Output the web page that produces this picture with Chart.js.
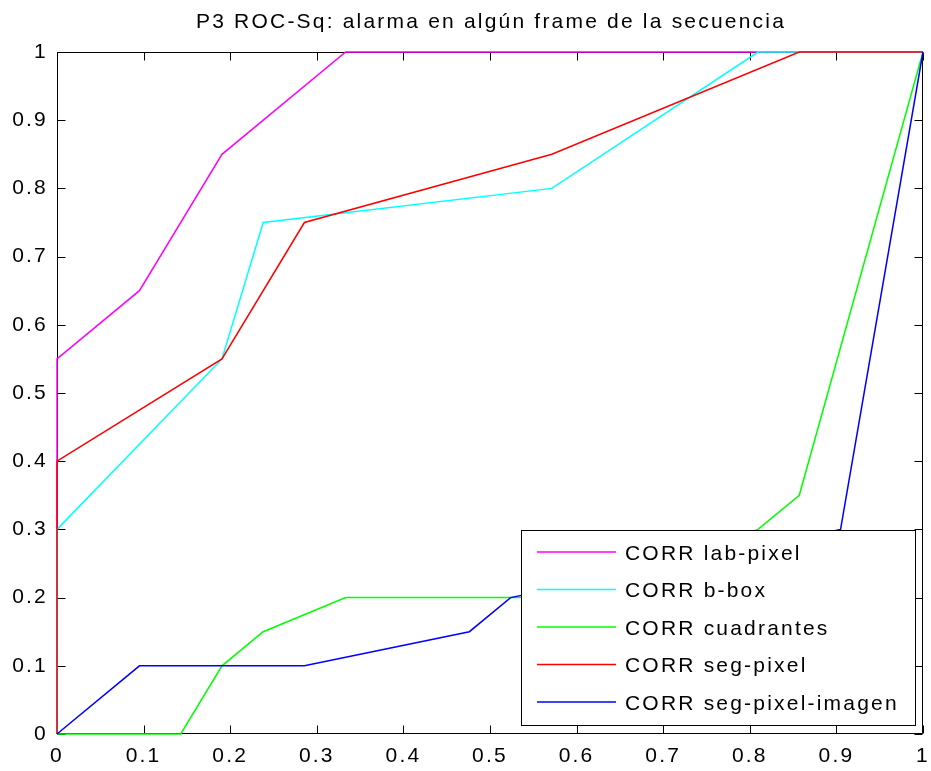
<!DOCTYPE html>
<html>
<head>
<meta charset="utf-8">
<title>P3 ROC-Sq</title>
<script src="https://cdn.jsdelivr.net/npm/chart.js@4"></script>
<style>
  html, body { margin: 0; padding: 0; background: #fff; }
  canvas { display: block; }
</style>
</head>
<body>
<canvas id="roc" width="931" height="771"></canvas>
<script>
const titulo = "P3 ROC-Sq: alarma en algún frame de la secuencia";

// curvas ROC (x = falsos positivos, y = verdaderos positivos)
const labPixelX = [0, 0, 0.0952, 0.1905, 0.3333, 1];
const labPixelY = [0, 0.55, 0.65, 0.85, 1, 1];

const bBoxX = [0, 0, 0.1905, 0.2381, 0.5714, 0.8095, 1];
const bBoxY = [0, 0.3, 0.55, 0.75, 0.8, 1, 1];

const cuadrantesX = [0, 0.1429, 0.1905, 0.2381, 0.3333, 0.5714, 0.8095, 0.8571, 1];
const cuadrantesY = [0, 0, 0.1, 0.15, 0.2, 0.2, 0.3, 0.35, 1];

const segPixelX = [0, 0, 0.1905, 0.2857, 0.5714, 0.8571, 1];
const segPixelY = [0, 0.4, 0.55, 0.75, 0.85, 1, 1];

const segImagenX = [0, 0.0952, 0.2857, 0.4762, 0.5238, 0.9048, 1];
const segImagenY = [0, 0.1, 0.1, 0.15, 0.2, 0.3, 1];

const nombres = ["CORR lab-pixel", "CORR b-box", "CORR cuadrantes", "CORR seg-pixel", "CORR seg-pixel-imagen"];
const colores = ["#ff00ff", "#00ffff", "#00ff00", "#ff0000", "#0000ff"];

const FUENTE = "21px 'Liberation Sans', Arial, sans-serif";
const ESPACIADO = "2.2px";

function puntos(xs, ys) {
  return xs.map((x, i) => ({ x: x, y: ys[i] }));
}

const series = [
  puntos(labPixelX, labPixelY),
  puntos(bBoxX, bBoxY),
  puntos(cuadrantesX, cuadrantesY),
  puntos(segPixelX, segPixelY),
  puntos(segImagenX, segImagenY),
];

// etiquetas sin ceros de sobra: 0, 0.1 ... 1
function etiqueta(v) {
  return String(Number(v.toFixed(1)));
}

// caja de ejes con marcas hacia dentro, como en matlab
const cajaEjes = {
  id: "cajaEjes",
  beforeDraw(chart) {
    chart.ctx.letterSpacing = ESPACIADO;
  },
  beforeDatasetsDraw(chart) {
    const { ctx, chartArea: a, scales } = chart;
    const l = Math.round(a.left) + 0.5, r = Math.round(a.right) - 0.5;
    const t = Math.round(a.top) + 0.5, b = Math.round(a.bottom) - 0.5;
    const largo = 8;
    ctx.save();
    ctx.strokeStyle = "#000";
    ctx.lineWidth = 1;
    ctx.beginPath();
    ctx.rect(l, t, r - l, b - t);
    scales.x.ticks.forEach((tk) => {
      const px = Math.round(scales.x.getPixelForValue(tk.value)) + 0.5;
      ctx.moveTo(px, b); ctx.lineTo(px, b - largo);
      ctx.moveTo(px, t); ctx.lineTo(px, t + largo);
    });
    scales.y.ticks.forEach((tk) => {
      const py = Math.round(scales.y.getPixelForValue(tk.value)) + 0.5;
      ctx.moveTo(l, py); ctx.lineTo(l + largo, py);
      ctx.moveTo(r, py); ctx.lineTo(r - largo, py);
    });
    ctx.stroke();

    // título centrado sobre los ejes
    ctx.fillStyle = "#000";
    ctx.font = FUENTE;
    ctx.letterSpacing = ESPACIADO;
    ctx.textAlign = "center";
    ctx.textBaseline = "alphabetic";
    ctx.fillText(titulo, (a.left + a.right) / 2 + 1, 28);
    ctx.restore();
  },
  afterDatasetsDraw(chart) {
    const { ctx } = chart;
    const caja = { x: 521.5, y: 530.5, w: 394, h: 195 };
    ctx.save();
    ctx.fillStyle = "#fff";
    ctx.fillRect(caja.x, caja.y, caja.w, caja.h);
    ctx.strokeStyle = "#000";
    ctx.lineWidth = 1;
    ctx.strokeRect(caja.x, caja.y, caja.w, caja.h);
    ctx.font = FUENTE;
    ctx.letterSpacing = ESPACIADO;
    ctx.textAlign = "left";
    ctx.textBaseline = "alphabetic";
    chart.data.datasets.forEach((ds, i) => {
      const y = 552 + i * 37.5;
      ctx.strokeStyle = ds.borderColor;
      ctx.lineWidth = 1.5;
      ctx.beginPath();
      ctx.moveTo(537, y);
      ctx.lineTo(616, y);
      ctx.stroke();
      ctx.fillStyle = "#000";
      ctx.fillText(ds.label, 625, y + 7.5);
    });
    ctx.restore();
  },
};

const data = {
  datasets: series.map((pts, i) => ({
    label: nombres[i],
    data: pts,
    borderColor: colores[i],
    backgroundColor: colores[i],
    borderWidth: 1.5,
    pointRadius: 0,
    tension: 0,
    fill: false,
    clip: 3,
    // la última curva queda encima
    order: series.length - i,
  })),
};

const config = {
  type: "line",
  data: data,
  options: {
    responsive: false,
    animation: false,
    devicePixelRatio: 1,
    layout: { padding: { top: 52, right: 8, bottom: 0, left: 0 } },
    plugins: {
      legend: { display: false },
      title: { display: false },
      tooltip: { enabled: false },
    },
    scales: {
      x: {
        type: "linear",
        min: 0,
        max: 1,
        grid: { display: false, drawTicks: false },
        border: { display: false },
        ticks: {
          stepSize: 0.1,
          padding: 10,
          maxRotation: 0,
          autoSkip: false,
          color: "#000",
          font: { family: "'Liberation Sans', Arial, sans-serif", size: 21 },
          callback: etiqueta,
        },
        afterFit(scale) {
          scale.height = 37;
          scale.paddingLeft = 0;
          scale.paddingRight = 0;
        },
      },
      y: {
        min: 0,
        max: 1,
        grid: { display: false, drawTicks: false },
        border: { display: false },
        ticks: {
          stepSize: 0.1,
          padding: 9,
          autoSkip: false,
          color: "#000",
          font: { family: "'Liberation Sans', Arial, sans-serif", size: 21 },
          callback: etiqueta,
        },
        afterFit(scale) { scale.width = 57; },
      },
    },
  },
  plugins: [cajaEjes],
};

const rocChart = new Chart(document.getElementById("roc"), config);
</script>
</body>
</html>
